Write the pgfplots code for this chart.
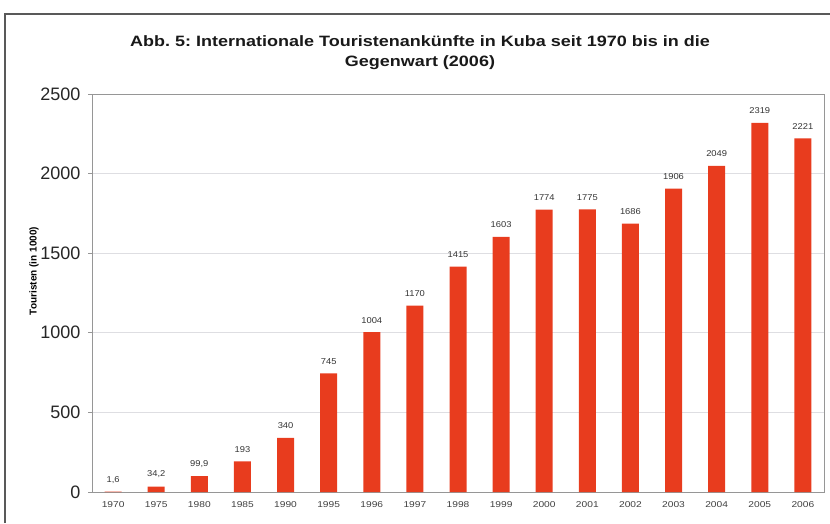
\documentclass[border=0pt]{standalone}
\usepackage{pgfplots}
\pgfplotsset{compat=1.18}
\usepackage{fontspec}
\setmainfont{Liberation Sans}
\frenchspacing
\definecolor{barred}{RGB}{232,60,30}
\definecolor{framegray}{RGB}{150,150,150}
\definecolor{gridgray}{RGB}{222,222,226}
\begin{document}
\begin{tikzpicture}
\path[use as bounding box] (0pt,0pt) rectangle (830pt,523pt);
\draw[color=black!65, line width=1.2pt] (5pt,0pt) -- (5pt,509pt) -- (830pt,509pt);
\node[font=\fontsize{15}{20}\selectfont\bfseries, align=center, color=black!90, xscale=1.2] at (420pt,470pt)
  {Abb. 5: Internationale Touristenankünfte in Kuba seit 1970 bis in die\\Gegenwart (2006)};
\begin{axis}[
  at={(92pt,31pt)}, anchor=south west,
  scale only axis, width=732pt, height=398pt,
  xmin=-0.49, xmax=16.49, ymin=0, ymax=2500,
  ytick={0,500,...,2500},
  xtick={0,...,16},
  xticklabels={1970,1975,1980,1985,1990,1995,1996,1997,1998,1999,2000,2001,2002,2003,2004,2005,2006},
  x tick label style={font=\fontsize{8.5}{10}\selectfont, color=black!75, yshift=-2pt, xscale=1.2},
  y tick label style={font=\fontsize{18}{22}\selectfont, color=black!85, xshift=-4pt},
  /pgf/number format/1000 sep={},
  /pgf/number format/assume math mode=true,
  ymajorgrids, grid style={gridgray, line width=0.8pt},
  axis line style={framegray, line width=1pt},
  ytick pos=left, xtick pos=bottom,
  tick align=outside,
  major tick length=4pt,
  x tick style={draw=none},
  y tick style={framegray, line width=1pt},
  ylabel={\bfseries Touristen (in 1000)},
  ylabel style={font=\fontsize{10.5}{12}\selectfont, color=black!90},
  every axis y label/.style={at={(-58pt,221pt)}, rotate=90, anchor=center},
  clip=false,
]
\addplot[ybar, bar width=17pt, fill=barred, draw=none,
  point meta=explicit symbolic,
  nodes near coords,
  every node near coord/.style={anchor=center, yshift=12pt, font=\fontsize{8.5}{10}\selectfont, color=black!80, xscale=1.1},
] table[x=x, y=y, meta=label] {
x y label
0 1.6 1,6
1 34.2 34,2
2 99.9 99,9
3 193 193
4 340 340
5 745 745
6 1004 1004
7 1170 1170
8 1415 1415
9 1603 1603
10 1774 1774
11 1775 1775
12 1686 1686
13 1906 1906
14 2049 2049
15 2319 2319
16 2221 2221
};
\end{axis}
\end{tikzpicture}
\end{document}
